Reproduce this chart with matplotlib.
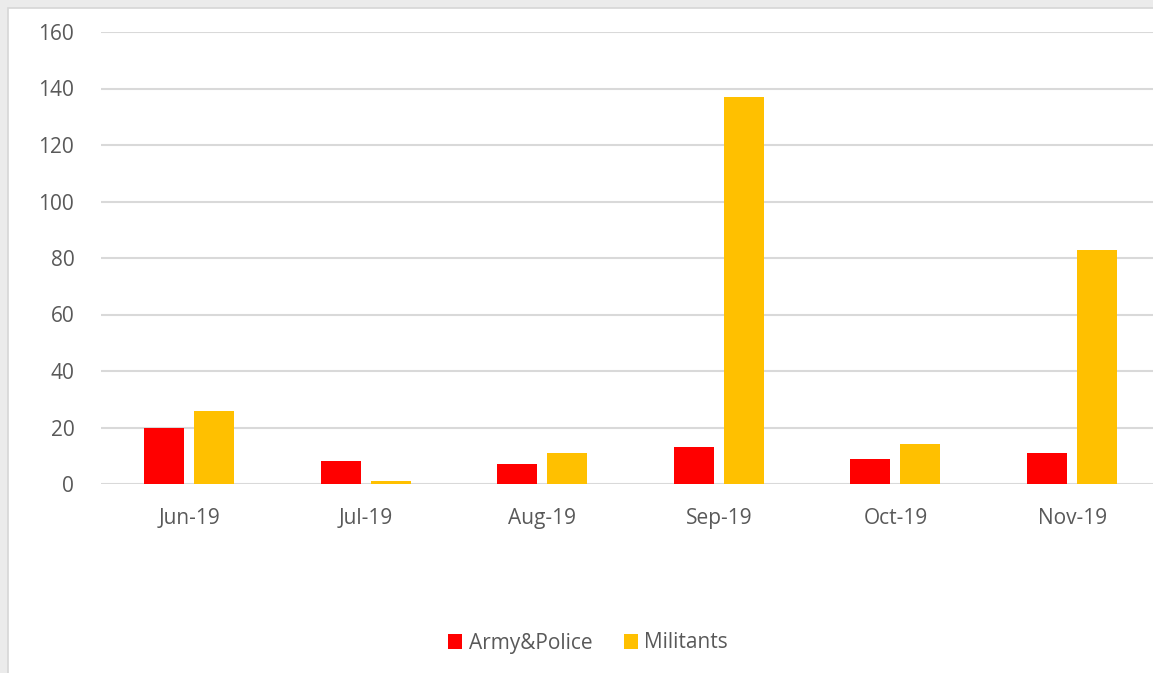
import matplotlib
matplotlib.use("Agg")
import matplotlib.pyplot as plt
import numpy as np
from matplotlib.patches import Rectangle

categories = ["Jun-19", "Jul-19", "Aug-19", "Sep-19", "Oct-19", "Nov-19"]
army_police = [20, 8, 7, 13, 9, 11]
militants = [26, 1, 11, 137, 14, 83]
yticks = [0, 20, 40, 60, 80, 100, 120, 140, 160]

W, H = 1153, 673
plt.rcParams['font.family'] = ['Open Sans', 'DejaVu Sans']
fig = plt.figure(figsize=(W / 100, H / 100), dpi=100)
fig.patch.set_facecolor("#ebebeb")
# white chart area
bg = Rectangle((8 / W, -0.01), 1, 1.01 - 8 / H, transform=fig.transFigure,
               facecolor="white", edgecolor="#d6d6d6", linewidth=1.2, zorder=-10)
fig.add_artist(bg)

# axes: left at 100.7px, right at ~1160px, y0 at 484, y160 at 32
left = 100.7 / W
right = 1160.4 / W
bottom = 1 - 484 / H
top = 1 - 32 / H
ax = fig.add_axes([left, bottom, right - left, top - bottom])
ax.set_facecolor("none")
ax.set_zorder(1)

x = np.arange(len(categories))
bw = 40 / 176.6
off = 25 / 176.6
b1 = ax.bar(x - off, army_police, bw, color="#ff0000", label="Army&Police", zorder=3)
b2 = ax.bar(x + off, militants, bw, color="#ffc000", label="Militants", zorder=3)

ax.set_xlim(-0.5, len(categories) - 0.5)
ax.set_ylim(0, 160)
ax.set_yticks(yticks)
ax.set_xticks(x)
ax.set_xticklabels(categories)
ax.yaxis.grid(True, color="#d9d9d9", linewidth=1.5, zorder=0)
ax.set_axisbelow(True)
for s in ax.spines.values():
    s.set_visible(False)
ax.tick_params(axis="both", length=0, colors="#595959", labelsize=15)
ax.tick_params(axis="y", pad=19)
ax.tick_params(axis="x", pad=17)

leg = fig.legend(handles=[b1, b2], loc="center", bbox_to_anchor=(588 / W, 1 - 643 / H),
                 ncol=2, frameon=False, fontsize=15, handlelength=0.7, handleheight=0.7,
                 handletextpad=0.3, columnspacing=1.5)
for t in leg.get_texts():
    t.set_color("#595959")

fig.savefig("out.png", dpi=100, facecolor=fig.get_facecolor())
